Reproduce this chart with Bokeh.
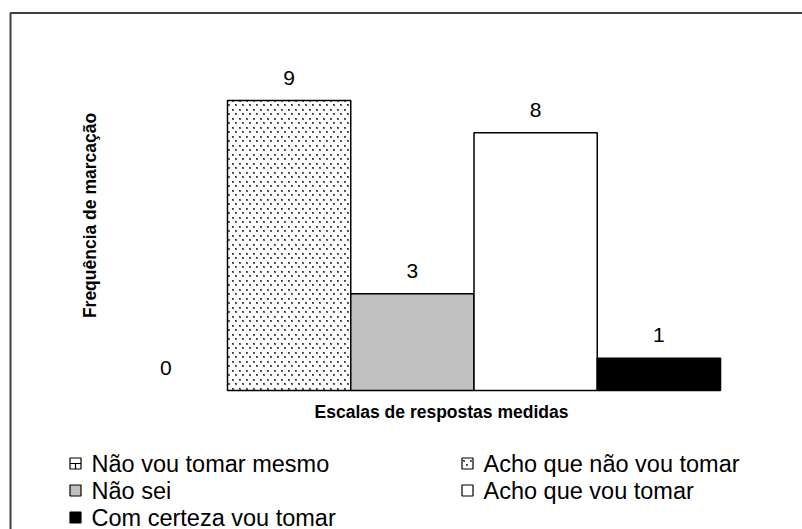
import base64
import struct
import zlib

import numpy as np
from bokeh.plotting import figure
from bokeh.models import ColumnDataSource, Range1d, ImageURLTexture
from bokeh.core.properties import value
from bokeh.embed import file_html
from bokeh.resources import INLINE

# --- data -------------------------------------------------------------
categories = [
    "Não vou tomar mesmo",
    "Acho que não vou tomar",
    "Não sei",
    "Acho que vou tomar",
    "Com certeza vou tomar",
]
counts = [0, 9, 3, 8, 1]
x_title = "Escalas de respostas medidas"
y_title = "Frequência de marcação"

# --- styling per category ---------------------------------------------
fill_colors = ["white", "white", "#c0c0c0", "white", "black"]
hatch_patterns = [" ", "stipple", " ", " ", " "]

W, H = 802, 529
FONT = "Liberation Sans"

# pixel geometry of the plotting area (one category = one unit on x)
PX_X0, PX_PER_CAT = 103.75, 123.25
PX_Y0, PX_PER_UNIT = 390.0, 32.22


def dx(px):
    return (px - PX_X0) / PX_PER_CAT


def dy(py):
    return (PX_Y0 - py) / PX_PER_UNIT


def stipple_tile():
    """Small PNG tile with two staggered dots, used as a fill texture."""
    tw, th = 7, 9
    px = [[(255, 255, 255, 0)] * tw for _ in range(th)]
    for cx, cy in [(1, 1), (4, 5)]:
        px[cy][cx] = (40, 40, 40, 255)
        px[cy][cx + 1] = (110, 110, 110, 255)
        px[cy + 1][cx] = (110, 110, 110, 255)
        px[cy + 1][cx + 1] = (90, 90, 90, 255)
    raw = b"".join(b"\x00" + bytes(c for p_ in row for c in p_) for row in px)

    def chunk(tag, data):
        body = tag + data
        return struct.pack(">I", len(data)) + body + struct.pack(">I", zlib.crc32(body) & 0xFFFFFFFF)

    png = (b"\x89PNG\r\n\x1a\n"
           + chunk(b"IHDR", struct.pack(">IIBBBBB", tw, th, 8, 6, 0, 0, 0))
           + chunk(b"IDAT", zlib.compress(raw))
           + chunk(b"IEND", b""))
    return "data:image/png;base64," + base64.b64encode(png).decode()


stipple = {"stipple": ImageURLTexture(url=stipple_tile(), repetition="repeat")}

p = figure(
    width=W, height=H,
    x_range=Range1d(dx(0), dx(W)), y_range=Range1d(dy(H), dy(0)),
    output_backend="svg", toolbar_location=None,
    x_axis_location=None, y_axis_location=None,
    min_border=0, outline_line_color=None,
)
p.grid.visible = False
p.background_fill_color = "white"
p.border_fill_color = "white"

n = len(categories)
xs = np.arange(n) + 0.5
src = ColumnDataSource(dict(
    x=xs, top=counts, cat=categories,
    fill=fill_colors, hatch=hatch_patterns,
    edge=[0.0 if v == 0 else 1.0 for v in counts],
    label=[str(v) for v in counts],
))

# bars
p.vbar(x="x", top="top", bottom=0, width=1.0, source=src,
       fill_color="fill", hatch_pattern="hatch", hatch_extra=stipple,
       line_color="black", line_width=1.5, line_alpha="edge")

# value labels above the bars
p.text(x="x", y="top", text="label", source=src,
       text_font=value(FONT), text_font_size="21px", text_color="black",
       text_align="center", text_baseline="alphabetic", y_offset=-23)

# axis titles
p.text(x=[dx(89)], y=[dy(215)], text=[y_title], angle=np.pi / 2,
       text_font=value(FONT), text_font_size="17.5px", text_font_style="bold",
       text_align="center", text_baseline="middle", text_color="black")
p.text(x=[dx(441)], y=[dy(411)], text=[x_title],
       text_font=value(FONT), text_font_size="17.5px", text_font_style="bold",
       text_align="center", text_baseline="middle", text_color="black")

# legend: two columns, filled row by row
col_px = [75, 467]
row_px = [463, 490, 517]
leg_x = [col_px[i % 2] for i in range(n)]
leg_y = [row_px[i // 2] for i in range(n)]
leg = ColumnDataSource(dict(
    x=[dx(v) for v in leg_x], y=[dy(v) for v in leg_y],
    tx=[dx(v + 16) for v in leg_x],
    cat=categories, fill=fill_colors, hatch=hatch_patterns,
))
p.rect(x="x", y="y", width=11, height=11, width_units="screen",
       height_units="screen", source=leg, fill_color="fill",
       hatch_pattern="hatch", hatch_extra=stipple,
       line_color="black", line_width=1.2)
# brick-like mark inside the first legend key
bx, by = leg_x[0], leg_y[0]
p.segment(x0=[dx(bx - 5.5), dx(bx)], y0=[dy(by), dy(by)],
          x1=[dx(bx + 5.5), dx(bx)], y1=[dy(by), dy(by + 5.5)],
          line_color="black", line_width=1.2)
p.text(x="tx", y="y", text="cat", source=leg,
       text_font=value(FONT), text_font_size="23.5px", text_color="black",
       text_align="left", text_baseline="middle")

# chart frame
p.line(x=[dx(10), dx(10), dx(W + 5)], y=[dy(H + 5), dy(12.5), dy(12.5)],
       line_color="#404040", line_width=2)

open("out.html", "w").write(file_html(p, INLINE))
